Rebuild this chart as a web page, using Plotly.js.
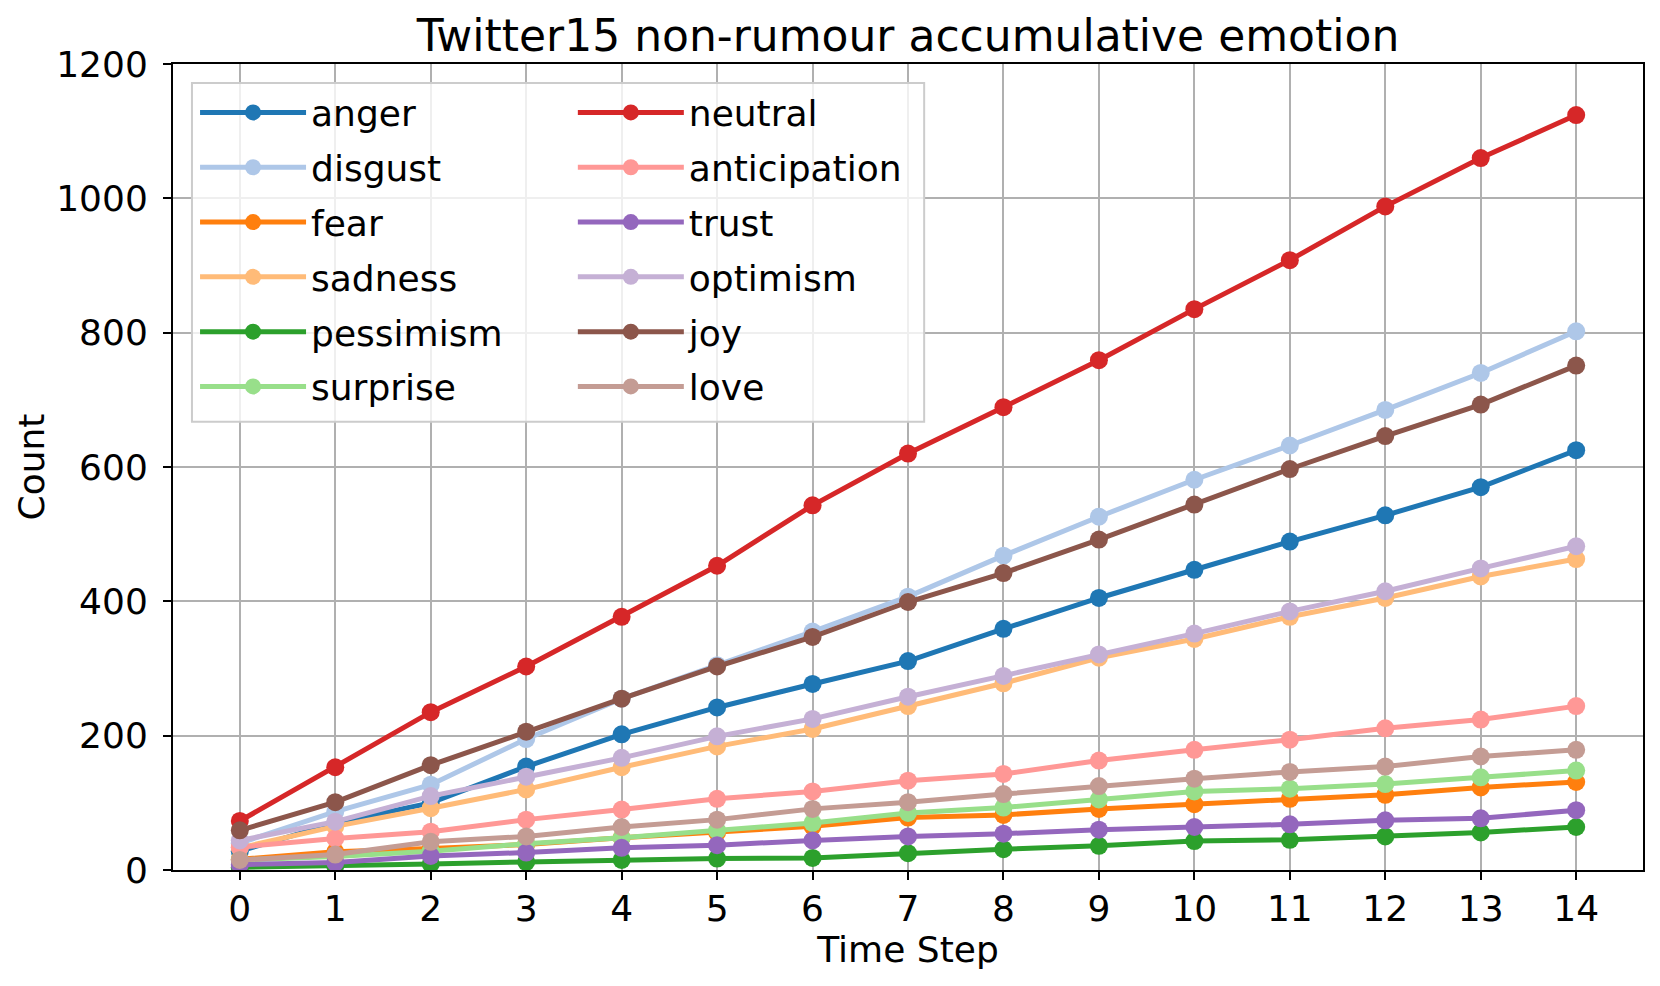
<!DOCTYPE html>
<html>
<head>
<meta charset="utf-8">
<script src="https://cdn.plot.ly/plotly-3.0.1.min.js"></script>
<style>
  html, body { margin: 0; padding: 0; background: #fff; }
  #chart { width: 1660px; height: 986px; }
</style>
</head>
<body>
<div id="chart"></div>
<script>
// Time steps on the x axis
const timeSteps = [0, 1, 2, 3, 4, 5, 6, 7, 8, 9, 10, 11, 12, 13, 14];

// Accumulated counts per emotion
const anger        = [28, 70, 100, 154, 202, 242, 277, 311, 359, 405, 447, 489, 528, 570, 625];
const disgust      = [40, 87, 127, 195, 255, 305, 355, 407, 468, 526, 581, 632, 685, 740, 802];
const fear         = [16, 27, 32, 38, 48, 56, 65, 78, 82, 91, 98, 106, 112, 123, 131];
const sadness      = [33, 65, 92, 120, 153, 184, 210, 244, 278, 316, 344, 377, 405, 437, 463];
const pessimism    = [4, 6, 9, 12, 15, 17, 18, 25, 31, 36, 43, 45, 50, 56, 64];
const surprise     = [15, 20, 28, 39, 48, 59, 70, 85, 93, 105, 117, 121, 128, 138, 148];
const neutral      = [73, 153, 235, 303, 377, 453, 543, 620, 689, 759, 835, 908, 988, 1060, 1124];
const anticipation = [34, 47, 57, 75, 90, 106, 117, 133, 143, 163, 179, 194, 211, 224, 244];
const trust        = [8, 11, 21, 26, 33, 37, 44, 50, 54, 60, 64, 68, 74, 77, 89];
const optimism     = [44, 72, 110, 139, 167, 199, 225, 258, 289, 321, 352, 385, 415, 449, 482];
const joy          = [59, 101, 156, 206, 255, 303, 347, 399, 442, 492, 544, 597, 646, 693, 751];
const love         = [15, 23, 42, 50, 64, 75, 91, 101, 113, 125, 136, 146, 154, 169, 179];

const seriesNames = ['anger', 'disgust', 'fear', 'sadness', 'pessimism', 'surprise',
                     'neutral', 'anticipation', 'trust', 'optimism', 'joy', 'love'];
const seriesValues = [anger, disgust, fear, sadness, pessimism, surprise,
                      neutral, anticipation, trust, optimism, joy, love];

// tab20 colours, in plotting order
const COLORS = ['#1f77b4', '#aec7e8', '#ff7f0e', '#ffbb78', '#2ca02c', '#98df8a',
                '#d62728', '#ff9896', '#9467bd', '#c5b0d5', '#8c564b', '#c49c94'];

const FONT = 'DejaVu Sans, Liberation Sans, sans-serif';

// two legend columns: first six series in legend, the rest in legend2
const traces = seriesNames.map((name, i) => ({
  x: timeSteps,
  y: seriesValues[i],
  name: name,
  type: 'scatter',
  mode: 'lines+markers',
  line: { color: COLORS[i], width: 5 },
  marker: { color: COLORS[i], size: 18, line: { width: 0 } },
  legend: i < 6 ? 'legend' : 'legend2',
  legendgroup: name,
}));

const legendBase = {
  orientation: 'v',
  xanchor: 'left',
  y: 0.977, yanchor: 'top',
  traceorder: 'grouped',
  tracegroupgap: 5,
  bgcolor: 'rgba(0,0,0,0)',
  borderwidth: 0,
  font: { family: FONT, size: 36, color: '#000' },
  itemwidth: 106,
};

const layout = {
  width: 1660,
  height: 986,
  paper_bgcolor: '#fff',
  plot_bgcolor: '#fff',
  margin: { l: 173, r: 17, t: 64, b: 116, pad: 0 },
  font: { family: FONT, size: 36, color: '#000' },
  title: {
    text: 'Twitter15 non-rumour accumulative emotion',
    font: { family: FONT, size: 44, color: '#000' },
    x: 0.5, xref: 'paper', xanchor: 'center',
    y: 0.964, yref: 'container', yanchor: 'middle',
  },
  xaxis: {
    range: [-0.7, 14.7],
    tickmode: 'array',
    tickvals: timeSteps,
    ticktext: timeSteps.map(String),
    showgrid: true, gridcolor: '#b0b0b0', gridwidth: 2,
    zeroline: false,
    showline: true, linecolor: '#000', linewidth: 2, mirror: true,
    ticks: 'outside', ticklen: 8, tickwidth: 2, tickcolor: '#000',
    tickfont: { family: FONT, size: 36, color: '#000' },
    ticklabelstandoff: -2,
    title: { text: 'Time Step', font: { family: FONT, size: 36, color: '#000' }, standoff: 0 },
  },
  yaxis: {
    range: [0, 1200],
    tickmode: 'array',
    tickvals: [0, 200, 400, 600, 800, 1000, 1200],
    showgrid: true, gridcolor: '#b0b0b0', gridwidth: 2,
    zeroline: false,
    showline: true, linecolor: '#000', linewidth: 2, mirror: true,
    ticks: 'outside', ticklen: 8, tickwidth: 2, tickcolor: '#000',
    tickfont: { family: FONT, size: 36, color: '#000' },
    ticklabelstandoff: 8,
    title: { text: 'Count', font: { family: FONT, size: 36, color: '#000' }, standoff: 1 },
  },
  showlegend: true,
  legend: Object.assign({}, legendBase, { x: 0.015 }),
  legend2: Object.assign({}, legendBase, { x: 0.272 }),
  // the single frame behind both legend columns
  shapes: [{
    type: 'rect', xref: 'paper', yref: 'paper', layer: 'above',
    x0: 0.0129, x1: 0.511, y0: 0.556, y1: 0.9764,
    fillcolor: 'rgba(255,255,255,0.8)',
    line: { color: '#cccccc', width: 2 },
  }],
};

Plotly.newPlot('chart', traces, layout, { staticPlot: true, displayModeBar: false });
</script>
</body>
</html>
